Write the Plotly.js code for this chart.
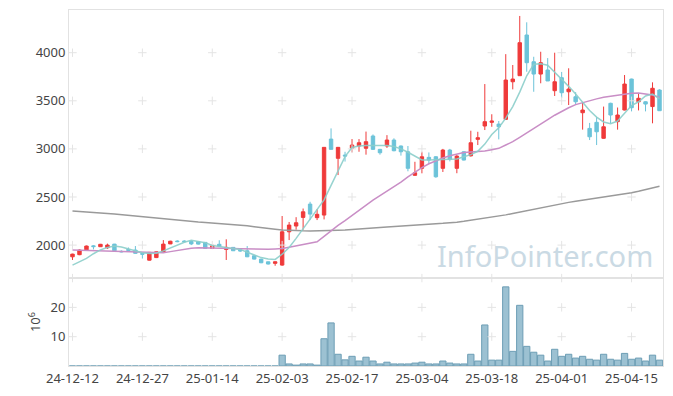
<!DOCTYPE html>
<html>
<head>
<meta charset="utf-8">
<script src="https://cdn.plot.ly/plotly-3.0.1.min.js"></script>
<style>html,body{margin:0;padding:0;background:#fff;}#chart{width:673px;height:396px;}</style>
</head>
<body>
<div id="chart"></div>
<script>
const dates = [
 '24-12-12','24-12-13','24-12-16','24-12-17','24-12-18','24-12-19','24-12-20','24-12-23','24-12-24','24-12-26','24-12-27','24-12-30',
 '25-01-02','25-01-03','25-01-06','25-01-07','25-01-08','25-01-09','25-01-10','25-01-13','25-01-14','25-01-15','25-01-16','25-01-17','25-01-20','25-01-21','25-01-22','25-01-23','25-01-24','25-01-31',
 '25-02-03','25-02-04','25-02-05','25-02-06','25-02-07','25-02-10','25-02-11','25-02-12','25-02-13','25-02-14','25-02-17','25-02-18','25-02-19','25-02-20','25-02-21','25-02-24','25-02-25','25-02-26','25-02-27','25-02-28',
 '25-03-04','25-03-05','25-03-06','25-03-07','25-03-10','25-03-11','25-03-12','25-03-13','25-03-14','25-03-17','25-03-18','25-03-19','25-03-20','25-03-21','25-03-24','25-03-25','25-03-26','25-03-27','25-03-28','25-03-31',
 '25-04-01','25-04-02','25-04-03','25-04-04','25-04-07','25-04-08','25-04-09','25-04-10','25-04-11','25-04-14','25-04-15','25-04-16','25-04-17','25-04-18','25-04-21'
];
const opens = [1878,1900,1950,1992,1983,1972,2010,1935,1955,1948,1912,1843,1870,1924,2012,2042,2042,2038,2036,2028,1965,2008,1955,1976,1950,1941,1889,1854,1826,1810,
 1792,2138,2198,2288,2426,2285,2312,3102,2902,2936,3006,3030,3006,3134,2995,3030,3092,3030,2970,2725,
 2798,2912,2918,2798,2988,2798,2970,2928,3099,3238,3276,3258,3307,3698,3761,4184,3906,3778,3820,3605,
 3740,3594,3542,3376,3213,3276,3110,3474,3283,3404,3726,3490,3490,3440,3612];
const highs = [1910,1955,1995,2000,2012,2015,2012,1945,1975,1990,1915,1926,1935,2052,2045,2050,2050,2050,2040,2030,2000,2050,2060,1980,1960,1990,1892,1858,1828,1830,
 2302,2240,2290,2380,2450,2373,3016,3213,3020,2970,3102,3102,3180,3150,3000,3143,3110,3035,3030,2866,
 2970,2963,2925,3000,3000,2935,2975,3189,3178,3674,3360,3290,3985,3872,4382,4316,3958,4010,3944,4000,
 3800,3838,3590,3488,3270,3330,3440,3480,3430,3768,3730,3580,3495,3692,3620];
const lows = [1845,1895,1945,1955,1980,1960,1938,1925,1935,1910,1860,1840,1865,1920,2010,2030,2030,2000,2005,1960,1960,1980,1845,1938,1930,1875,1850,1812,1798,1785,
 1785,2052,2160,2160,2260,2260,2267,2995,2728,2868,2964,2970,2940,2990,2940,3010,2975,2930,2767,2720,
 2746,2842,2700,2760,2870,2747,2880,2920,3040,3196,3230,3099,3300,3619,3761,3802,3594,3682,3706,3550,
 3530,3456,3465,3200,3092,3040,3105,3266,3200,3400,3390,3400,3390,3266,3395];
const closes = [1906,1948,1990,1984,2008,2000,1941,1930,1945,1914,1905,1924,1930,2010,2040,2036,2036,2012,2010,1965,1998,1988,1976,1941,1940,1878,1854,1816,1803,1826,
 2138,2208,2232,2346,2322,2320,3016,2995,3016,2926,3040,3064,3075,2995,2960,3092,2981,2970,2798,2752,
 2918,2884,2710,2988,2891,2925,2884,3064,3116,3283,3290,3230,3716,3726,4104,3896,3778,3896,3706,3698,
 3584,3622,3490,3404,3126,3178,3230,3352,3352,3674,3428,3526,3466,3630,3397];
// volume in millions (10^6)
const volumes = [0,0,0,0,0,0,0,0,0,0,0,0,0,0,0,0,0,0,0,0,0,0,0,0,0,0,0,0,0,0,
 3.7,0.7,0.3,0.7,0.7,0.3,9.3,14.7,4.0,2.1,3.3,1.7,3.0,1.7,0.7,1.3,0.7,0.7,0.7,1.0,
 1.3,0.7,0.7,1.7,1.0,0.7,0.7,4.0,1.7,14.0,2.0,2.0,27.0,5.0,20.7,6.7,4.7,3.7,1.7,5.7,
 3.3,4.0,2.7,3.3,2.3,2.0,4.0,2.3,2.0,4.3,2.3,2.7,1.7,3.7,2.0];
const ma5 = [1792,1830,1861,1910,1950,1975,1990,1980,1960,1940,1920,1913,1915,1940,1970,2000,2030,2050,2040,2025,1995,1985,1972,1968,1955,1925,1896,1870,1855,1851,
 1905,1975,2070,2170,2260,2370,2470,2620,2770,2920,3015,3030,3035,3035,3030,3035,3025,3000,2965,2925,
 2885,2885,2888,2891,2895,2895,2918,2940,2975,3050,3150,3220,3320,3440,3590,3760,3880,3885,3870,3800,
 3720,3650,3570,3480,3400,3330,3280,3262,3290,3370,3450,3490,3550,3570,3520];
const ma20 = [1948,1946,1944,1942,1940,1938,1936,1934,1932,1930,1928,1925,1922,1920,1932,1945,1958,1968,1972,1972,1972,1970,1968,1965,1962,1960,1957,1955,1956,1960,
 1965,1978,1992,2006,2020,2034,2090,2150,2205,2255,2310,2364,2418,2468,2515,2560,2605,2655,2710,2760,
 2805,2845,2878,2905,2928,2948,2962,2968,2970,2978,2992,3006,3040,3075,3120,3168,3213,3258,3305,3350,
 3390,3428,3460,3482,3502,3520,3536,3548,3558,3568,3578,3580,3572,3560,3536];
const ma120 = [2354,2350,2345,2340,2334,2328,2322,2315,2308,2300,2292,2284,2276,2268,2262,2256,2250,2245,2240,2235,2230,2225,2220,2214,2208,2200,2190,2180,2172,2165,
 2158,2153,2150,2148,2147,2147,2148,2150,2153,2156,2160,2165,2170,2176,2182,2188,2194,2198,2203,2208,
 2213,2218,2222,2226,2229,2238,2247,2257,2267,2278,2289,2300,2314,2328,2343,2358,2373,2388,2403,2418,
 2432,2444,2455,2466,2476,2486,2496,2506,2517,2530,2544,2559,2575,2593,2612];
const tickDates = ['24-12-12','24-12-27','25-01-14','25-02-03','25-02-17','25-03-04','25-03-18','25-04-01','25-04-15'];
const priceLevels = [2000,2500,3000,3500,4000];
const volLevels = [10,20];
const priceRange = [1657, 4444];
const volRange = [0, 30];

const crossPx = [], crossPy = [];
priceLevels.concat([priceRange[0]]).forEach(function(lv){ tickDates.forEach(function(d){ crossPx.push(d); crossPy.push(lv); }); });
const crossVx = [], crossVy = [];
volLevels.forEach(function(lv){ tickDates.forEach(function(d){ crossVx.push(d); crossVy.push(lv); }); });

const crossMarker = {symbol:'cross-thin', size:6, color:'#e4e4e4', line:{width:1, color:'#e4e4e4'}};

const traces = [
  {type:'scatter', mode:'markers', x:dates, y:closes, xaxis:'x2', yaxis:'y2', marker:{size:0.1, opacity:0}, hoverinfo:'skip', showlegend:false},
  {type:'scatter', mode:'markers', x:crossPx, y:crossPy, xaxis:'x2', yaxis:'y2', marker:crossMarker, hoverinfo:'skip', cliponaxis:false},
  {type:'scatter', mode:'markers', x:crossVx, y:crossVy, xaxis:'x', yaxis:'y', marker:crossMarker, hoverinfo:'skip'},
  {type:'candlestick', x:dates, open:opens, high:highs, low:lows, close:closes, xaxis:'x2', yaxis:'y2',
   increasing:{line:{color:'#ef3a3a', width:1}, fillcolor:'#ef3a3a'},
   decreasing:{line:{color:'#6cc3d9', width:1}, fillcolor:'#6cc3d9'},
   whiskerwidth:0, hoverinfo:'skip'},
  {type:'bar', x:dates, y:volumes, xaxis:'x', yaxis:'y', marker:{color:'#9cc1d2', line:{color:'#6d9eb5', width:1}}, hoverinfo:'skip'},
  {type:'scatter', mode:'lines', x:dates, y:ma120, xaxis:'x2', yaxis:'y2', line:{color:'#9a9a9a', width:1.5}, hoverinfo:'skip'},
  {type:'scatter', mode:'lines', x:dates, y:ma20, xaxis:'x2', yaxis:'y2', line:{color:'#c98ec6', width:1.5}, hoverinfo:'skip'},
  {type:'scatter', mode:'lines', x:dates, y:ma5, xaxis:'x2', yaxis:'y2', line:{color:'#8ccfcb', width:1.5}, opacity:0.9, hoverinfo:'skip'}
];

const fontFam = 'Noto Sans, sans-serif';
const layout = {
  width:673, height:396,
  margin:{l:69, r:10, t:10, b:30},
  paper_bgcolor:'#fff', plot_bgcolor:'#fff',
  showlegend:false, hovermode:false, bargap:0.1,
  font:{family:fontFam, size:13, color:'#444'},
  xaxis:{type:'category', anchor:'y', categoryorder:'array', categoryarray:dates, range:[-0.5, dates.length-0.5],
         tickmode:'array', tickvals:tickDates, ticktext:tickDates, tickangle:0,
         showgrid:false, zeroline:false, showline:true, linecolor:'#e2e2e2', mirror:true, ticks:'', rangeslider:{visible:false},
         tickfont:{size:13}},
  xaxis2:{type:'category', anchor:'y2', matches:'x', categoryorder:'array', categoryarray:dates, showticklabels:false, showgrid:false, zeroline:false,
          showline:true, linecolor:'#e2e2e2', mirror:true, ticks:'', rangeslider:{visible:false}},
  yaxis:{domain:[0, 0.247], range:volRange, tickvals:volLevels, showgrid:false, zeroline:false,
         showline:true, linecolor:'#e2e2e2', mirror:true, ticks:'',
         title:{text:'10<sup>6</sup>', font:{size:13}, standoff:6}},
  yaxis2:{domain:[0.247, 1], range:priceRange, tickvals:priceLevels, showgrid:false, zeroline:false,
          showline:true, linecolor:'#e2e2e2', mirror:true, ticks:''},
  annotations:[{text:'InfoPointer.com', xref:'paper', yref:'paper', x:0.801, y:0.309, xanchor:'center', yanchor:'middle',
                showarrow:false, font:{family:fontFam, size:29, color:'#cadae4'}}]
};
Plotly.newPlot('chart', traces, layout, {staticPlot:true, displayModeBar:false});
</script>
</body>
</html>
